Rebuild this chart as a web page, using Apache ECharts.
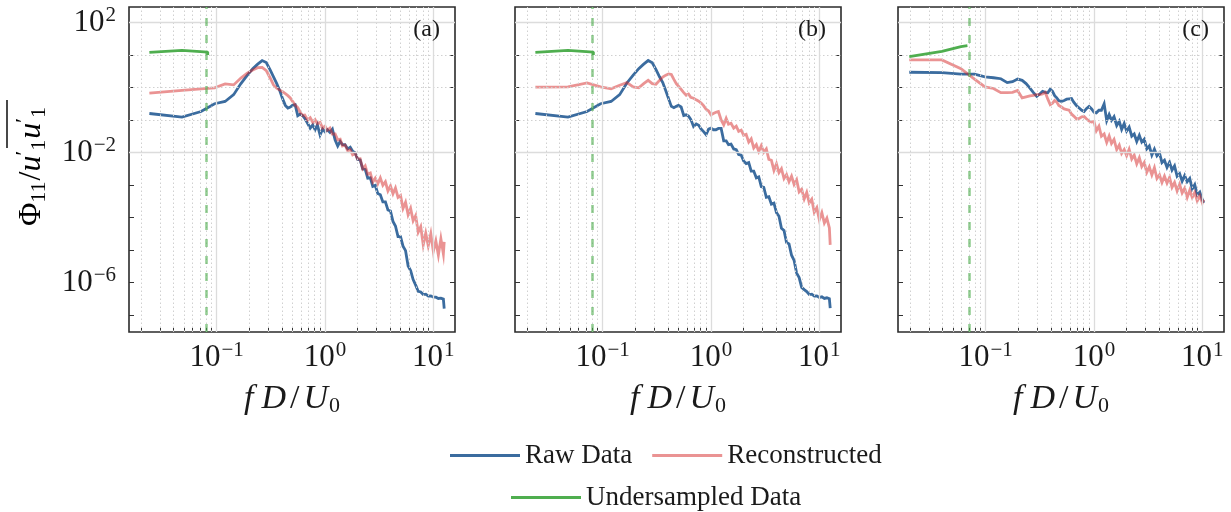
<!DOCTYPE html>
<html><head><meta charset="utf-8">
<script src="https://cdn.jsdelivr.net/npm/echarts@6/dist/echarts.min.js"></script>
<style>html,body{margin:0;padding:0;background:#fff}#c{width:1231px;height:512px}</style>
</head><body><div id="c"></div>
<script>
// frequencies fD/U0
const freqAB = [0.0239,0.0478,0.0717,0.0956,0.1195,0.1434,0.1673,0.1912,0.2151,0.239,0.2629,0.2868,0.3107,0.3346,0.3585,0.3824,0.4063,0.4302,0.4541,0.478,
0.50,0.53,0.56,0.59,0.62,0.65,0.69,0.73,0.77,0.81,0.85,0.90,0.95,1.00,1.05,1.11,1.17,
1.24,1.31,1.38,1.45,1.53,1.62,1.71,1.80,1.90,2.00,
2.11,2.23,2.35,2.48,2.62,2.76,2.91,3.07,3.24,3.42,3.61,3.81,4.02,4.24,4.47,4.72,4.98,5.25,5.54,5.85,6.17,6.51,6.87,7.25,
7.65,8.07,8.51,8.98,9.48,10.0,10.55,11.13,11.74,12.38,12.6];
const freqC = [0.0197,0.0394,0.0591,0.0788,0.0985,0.118,0.138,0.158,0.177,0.197,0.217,0.236,0.256,0.276,0.296,0.315,0.335,0.355,0.374,0.394,0.414,0.433,0.453,0.473,
0.50,0.53,0.56,0.59,0.62,0.65,0.69,0.73,0.77,0.81,0.85,0.90,0.95,1.00,1.05,1.11,1.17,
1.24,1.31,1.38,1.45,1.53,1.62,1.71,1.80,1.90,2.00,
2.11,2.23,2.35,2.48,2.62,2.76,2.91,3.07,3.24,3.42,3.61,3.81,4.02,4.24,4.47,4.72,4.98,5.25,5.54,5.85,6.17,6.51,6.87,7.25,
7.65,8.07,8.51,8.98,9.48,10.0,10.3];

// spectra, stored as log10(Phi11 / u'u')
const rawA_log = [-0.80,-0.91,-0.74,-0.50,-0.43,-0.22,0.12,0.37,0.58,0.72,0.83,0.77,0.55,0.33,0.12,-0.10,-0.35,-0.55,-0.63,-0.60,
-0.55,-0.53,-0.87,-0.82,-0.86,-0.95,-1.10,-1.25,-1.15,-1.30,-1.15,-1.46,-1.28,-1.36,-1.30,-1.38,-1.28,
-1.62,-1.80,-1.66,-1.76,-1.76,-1.89,-1.84,-1.96,-2.01,-2.21,
-2.23,-2.51,-2.52,-2.79,-2.78,-3.04,-3.01,-3.26,-3.30,-3.52,-3.52,-3.77,-3.80,-4.12,-4.26,-4.59,-4.59,-4.88,-5.02,-5.49,-5.63,-5.91,-6.08,-6.27,
-6.29,-6.37,-6.36,-6.42,-6.41,-6.45,-6.45,-6.49,-6.48,-6.51,-6.80];
const recA_log = [-0.17,-0.09,-0.04,-0.01,0.11,0.08,0.29,0.44,0.54,0.61,0.62,0.52,0.30,0.08,-0.02,-0.08,-0.13,-0.19,-0.25,-0.32,
-0.42,-0.54,-0.62,-0.76,-0.86,-0.85,-1.00,-0.93,-1.07,-0.99,-1.11,-1.07,-1.25,-1.19,-1.32,-1.25,-1.43,
-1.43,-1.61,-1.59,-1.80,-1.77,-1.95,-1.91,-2.07,-2.03,-2.20,
-2.19,-2.50,-2.41,-2.67,-2.63,-2.91,-2.79,-2.96,-2.78,-3.01,-2.90,-3.18,-3.03,-3.27,-3.09,-3.38,-3.32,-3.72,-3.53,-3.91,-3.72,-4.10,-3.94,-4.45,
-4.28,-4.84,-4.48,-4.87,-4.50,-5.04,-4.72,-5.16,-4.65,-5.12,-4.75];
const rawB_log = [-0.80,-0.91,-0.74,-0.50,-0.43,-0.22,0.14,0.38,0.58,0.72,0.83,0.76,0.55,0.33,0.15,-0.10,-0.35,-0.58,-0.62,-0.58,
-0.55,-0.60,-0.86,-0.84,-0.88,-0.98,-1.20,-1.12,-1.16,-1.28,-1.35,-1.45,-1.28,-1.25,-1.30,-1.30,-1.26,
-1.26,-1.64,-1.64,-1.76,-1.74,-1.89,-1.91,-2.06,-2.08,-2.26,
-2.34,-2.31,-2.57,-2.57,-2.78,-2.75,-3.05,-3.07,-3.38,-3.36,-3.59,-3.56,-3.85,-3.96,-4.33,-4.40,-4.77,-4.81,-5.16,-5.32,-5.71,-5.85,-6.15,-6.22,
-6.28,-6.37,-6.36,-6.42,-6.41,-6.46,-6.44,-6.49,-6.47,-6.50,-6.79];
const recB_log = [0.01,0.02,0.14,0.02,-0.04,0.07,0.15,0.02,-0.01,0.12,0.22,0.12,0.10,0.22,0.32,0.38,0.42,0.40,0.25,0.12,
0.04,-0.06,-0.16,-0.24,-0.20,-0.30,-0.33,-0.38,-0.42,-0.48,-0.55,-0.67,-0.72,-0.84,-0.80,-0.76,-0.74,
-1.00,-1.15,-0.95,-1.13,-1.10,-1.25,-1.19,-1.35,-1.31,-1.47,
-1.44,-1.68,-1.58,-1.86,-1.76,-1.97,-1.79,-1.99,-1.89,-2.21,-2.24,-2.55,-2.35,-2.62,-2.50,-2.80,-2.68,-2.90,-2.73,-2.98,-2.84,-3.21,-3.13,-3.43,
-3.23,-3.55,-3.44,-3.84,-3.70,-4.07,-3.85,-4.17,-4.02,-4.32,-4.84];
const rawC_log = [0.47,0.46,0.41,0.41,0.33,0.30,0.27,0.15,0.18,0.26,0.22,0.12,-0.02,-0.16,-0.27,-0.20,-0.12,-0.15,-0.16,-0.05,-0.12,-0.25,-0.32,-0.40,
-0.43,-0.40,-0.36,-0.35,-0.34,-0.45,-0.56,-0.63,-0.70,-0.74,-0.65,-0.58,-0.66,-0.76,-0.78,-0.70,-0.70,
-0.50,-1.02,-0.83,-1.01,-0.90,-1.17,-1.04,-1.29,-1.11,-1.34,
-1.22,-1.50,-1.43,-1.66,-1.47,-1.68,-1.59,-1.89,-1.80,-2.08,-1.90,-2.10,-2.01,-2.31,-2.24,-2.46,-2.30,-2.54,-2.41,-2.73,-2.65,-2.88,-2.71,-2.90,
-2.80,-3.12,-2.99,-3.30,-3.22,-3.45,-3.55];
const recC_log = [0.85,0.85,0.58,0.26,0.02,-0.03,-0.16,-0.16,-0.15,-0.09,-0.32,-0.29,-0.26,-0.24,-0.22,-0.22,-0.20,-0.15,-0.35,-0.53,-0.48,-0.40,-0.45,-0.55,
-0.60,-0.66,-0.68,-0.70,-0.82,-0.88,-0.97,-0.95,-0.90,-0.89,-0.96,-1.03,-1.06,-1.05,-1.33,-1.19,-1.50,
-1.43,-1.69,-1.49,-1.72,-1.60,-1.91,-1.77,-2.03,-1.91,-2.10,
-1.90,-2.20,-2.08,-2.35,-2.16,-2.43,-2.31,-2.61,-2.44,-2.69,-2.47,-2.80,-2.69,-2.92,-2.73,-2.94,-2.77,-3.07,-2.92,-3.18,-2.98,-3.24,-3.10,-3.38,
-3.16,-3.38,-3.23,-3.49,-3.33,-3.55,-3.45];

// undersampled data
const underFreqA = [0.0239,0.0478,0.0826,0.0826,0.0826];
const underA_log = [1.08,1.14,1.09,1.15,1.00];
const underFreqB = [0.0239,0.0478,0.082,0.082,0.082];
const underB_log = [1.08,1.14,1.09,1.15,1.00];
const underFreqC = [0.0197,0.0394,0.0591,0.0678];
const underC_log = [0.95,1.11,1.26,1.29];
const cutoffFreq = [0.0826, 0.082, 0.0678];

const panelLabels = ['(a)','(b)','(c)'];
const xMajor = [0.1, 1, 10];
const xMinor = [0.02,0.03,0.04,0.05,0.06,0.07,0.08,0.09,0.2,0.3,0.4,0.5,0.6,0.7,0.8,0.9,2,3,4,5,6,7,8,9];
const yMajor = [100, 0.01, 1e-6];
const yMinor = [10, 1, 0.1, 1e-3, 1e-4, 1e-5, 1e-7];
const yDecades = [100,10,1,0.1,0.01,1e-3,1e-4,1e-5,1e-6,1e-7];

const FONT = "'Liberation Serif','DejaVu Serif',serif";
const INK = '#1a1a1a';
const C_RAW = '#3b6c9f', C_REC = 'rgba(214,39,40,0.5)', C_UND = '#4fae4f', C_CUT = 'rgba(79,174,79,0.6)';
const LW = 2.8;

function pairs(fx, ly){ return fx.map((f,i)=>[f, Math.pow(10, ly[i])]); }
function powLabel(v){
  const e = Math.round(Math.log10(v));
  const s = e < 0 ? '\u2212' + (-e) : String(e);
  return '{b|10}{s|' + s + '}';
}
const powRich = {
  b: {fontFamily: FONT, fontSize: 31, color: INK},
  s: {fontFamily: FONT, fontSize: 21, color: INK, padding: [0,0,15,1]}
};

const gridLeft = [129, 515, 898];
const GW = 326, GT = 7, GH = 325;
const panels = [
  {f: freqAB, raw: rawA_log, rec: recA_log, uf: underFreqA, ul: underA_log},
  {f: freqAB, raw: rawB_log, rec: recB_log, uf: underFreqB, ul: underB_log},
  {f: freqC, raw: rawC_log, rec: recC_log, uf: underFreqC, ul: underC_log}
];

const grid = [], xAxis = [], yAxis = [], series = [], graphic = [];
const xTicks = xMinor.concat(xMajor).sort((a,b)=>a-b);
panels.forEach((p, i) => {
  grid.push({left: gridLeft[i], top: GT, width: GW, height: GH, show: true,
    borderColor: '#2b2b2b', borderWidth: 1.6, backgroundColor: '#fff'});
  xAxis.push({type: 'log', gridIndex: i, min: 0.0155, max: 15.85, logBase: 10,
    axisLine: {show: false},
    axisTick: {show: true, inside: true, length: 5, customValues: xTicks, lineStyle: {color: '#333', width: 1}},
    axisLabel: {show: true, customValues: xMajor, margin: 8, formatter: powLabel, rich: powRich},
    splitLine: {show: false}, minorTick: {show: false}, minorSplitLine: {show: false},
    name: '{i|f}{i2|D}{r|/}{i3|U}{u|0}', nameLocation: 'middle', nameGap: 50,
    nameTextStyle: {rich: {
      i: {fontFamily: FONT, fontStyle: 'italic', fontSize: 34, color: INK, padding: [0,8,0,0]},
      i2: {fontFamily: FONT, fontStyle: 'italic', fontSize: 34, color: INK, padding: [0,4,0,0]},
      r: {fontFamily: FONT, fontSize: 34, color: INK, padding: [0,4,0,0]},
      i3: {fontFamily: FONT, fontStyle: 'italic', fontSize: 34, color: INK},
      u: {fontFamily: FONT, fontSize: 22, color: INK, padding: [13,0,0,1]}
    }}
  });
  yAxis.push({type: 'log', gridIndex: i, min: 3e-8, max: 300, logBase: 10, position: 'left',
    axisLine: {show: false},
    axisTick: {show: true, inside: true, length: 5, customValues: yDecades, lineStyle: {color: '#333', width: 1}},
    axisLabel: {show: i === 0, customValues: yMajor, margin: 13, formatter: powLabel, rich: powRich},
    splitLine: {show: false}, minorTick: {show: false}});
  yAxis.push({type: 'log', gridIndex: i, min: 3e-8, max: 300, logBase: 10, position: 'right',
    axisLine: {show: false},
    axisTick: {show: true, inside: true, length: 5, customValues: yDecades, lineStyle: {color: '#333', width: 1}},
    axisLabel: {show: false}, splitLine: {show: false}});

  const gl = [];
  xMinor.forEach(v => gl.push({xAxis: v, lineStyle: {color: '#d0d0d0', width: 1, type: [1.5, 2.5]}}));
  yMinor.forEach(v => gl.push({yAxis: v, lineStyle: {color: '#d0d0d0', width: 1, type: [1.5, 2.5]}}));
  xMajor.forEach(v => gl.push({xAxis: v, lineStyle: {color: '#dcdcdc', width: 1.3, type: 'solid'}}));
  yMajor.forEach(v => gl.push({yAxis: v, lineStyle: {color: '#dcdcdc', width: 1.3, type: 'solid'}}));
  series.push({type: 'line', name: 'grid' + i, xAxisIndex: i, yAxisIndex: 2*i, data: [], z: 1, silent: true,
    markLine: {silent: true, symbol: ['none','none'], label: {show: false}, animation: false,
      emphasis: {disabled: true}, data: gl}});

  series.push({type: 'line', name: 'Raw Data', xAxisIndex: i, yAxisIndex: 2*i, data: pairs(p.f, p.raw),
    showSymbol: false, symbol: 'none', color: C_RAW, lineStyle: {color: C_RAW, width: LW, join: 'miter'}, z: 3, animation: false});
  series.push({type: 'line', name: 'Reconstructed', xAxisIndex: i, yAxisIndex: 2*i, data: pairs(p.f, p.rec),
    showSymbol: false, symbol: 'none', color: C_REC, lineStyle: {color: C_REC, width: LW, join: 'miter'}, z: 4, animation: false});
  series.push({type: 'line', name: 'Undersampled Data', xAxisIndex: i, yAxisIndex: 2*i, data: pairs(p.uf, p.ul),
    showSymbol: false, symbol: 'none', color: C_UND, lineStyle: {color: C_UND, width: LW}, z: 5, animation: false,
    markLine: {silent: true, symbol: ['none','none'], label: {show: false}, animation: false, emphasis: {disabled: true},
      data: [{xAxis: cutoffFreq[i], lineStyle: {color: C_CUT, width: 2.6, type: [8, 9]}}]}});

  graphic.push({type: 'text', right: 1231 - (gridLeft[i] + GW - 15), top: 18, z: 10,
    style: {text: panelLabels[i], font: '24px ' + FONT, fill: INK}});
});

// y-axis title
graphic.push({type: 'text', x: 32, y: 166, rotation: Math.PI/2, z: 10,
  style: {text: '{m|\u03A6}{d|11}{m|/}{it|u}{p|\u2032}{d|1}{it|u}{p|\u2032}{d|1}', align: 'center', verticalAlign: 'middle',
    rich: {
      m: {fontFamily: FONT, fontSize: 32, color: INK},
      it: {fontFamily: FONT, fontStyle: 'italic', fontSize: 32, color: INK},
      d: {fontFamily: FONT, fontSize: 22, color: INK, padding: [14,1,0,0]},
      p: {fontFamily: FONT, fontSize: 22, color: INK, padding: [0,0,16,0]}
    }}});
graphic.push({type: 'line', z: 10, shape: {x1: 7, y1: 100, x2: 7, y2: 148}, style: {stroke: INK, lineWidth: 1.6}});

const option = {
  animation: false,
  backgroundColor: '#fff',
  grid, xAxis, yAxis, series, graphic,
  legend: [
    {left: 445, top: 437, data: ['Raw Data', 'Reconstructed'], icon: 'rect', itemWidth: 70, itemHeight: 3, itemGap: 20,
      selectedMode: false, textStyle: {fontFamily: FONT, fontSize: 27, color: INK}},
    {left: 506, top: 479, data: ['Undersampled Data'], icon: 'rect', itemWidth: 70, itemHeight: 3,
      selectedMode: false, textStyle: {fontFamily: FONT, fontSize: 27, color: INK}}
  ]
};
const chart = echarts.init(document.getElementById('c'), null, {renderer: 'canvas'});
chart.setOption(option);
</script></body></html>
